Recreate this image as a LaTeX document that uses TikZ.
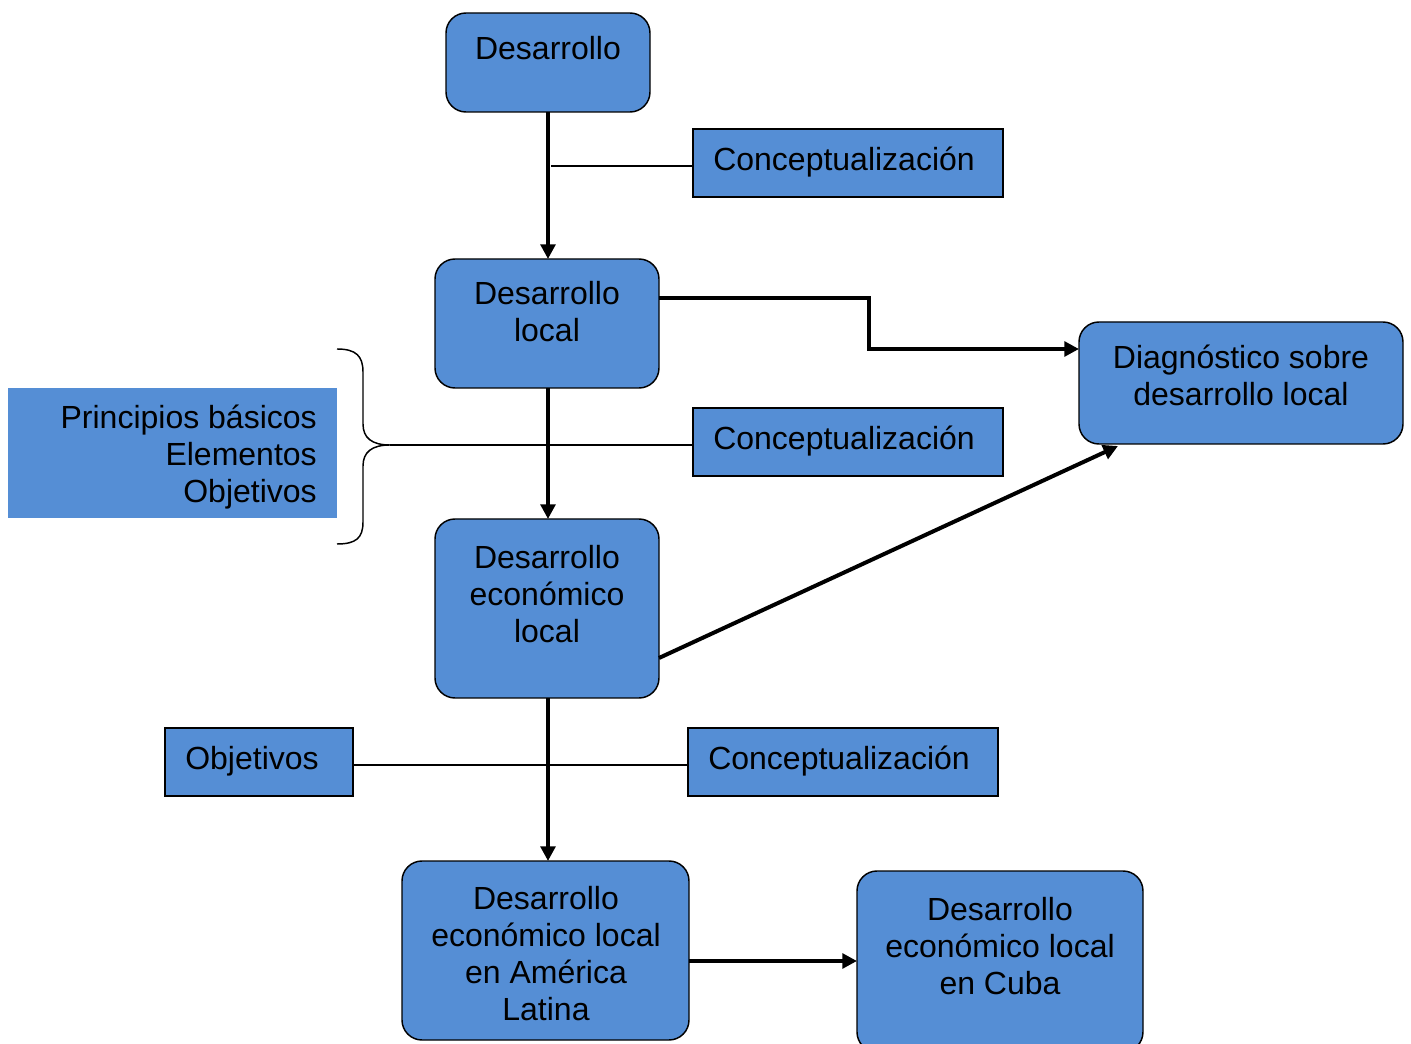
\documentclass[tikz,border=0pt]{standalone}
\usepackage{fontspec}
\setmainfont{Liberation Sans}
\usetikzlibrary{arrows.meta}
\definecolor{boxblue}{HTML}{558ED5}
\begin{document}
\begin{tikzpicture}[x=0.75pt,y=-0.75pt,
  rbox/.style={draw=black,line width=1.1pt,fill=boxblue,rounded corners=15pt},
  sbox/.style={draw=black,line width=1.1pt,fill=boxblue},
  txt/.style={font=\fontsize{24}{27.75}\selectfont,align=center,inner sep=0pt},
  thick arrow/.style={line width=3pt,-{Triangle[length=11pt,width=11pt]}},
  thin/.style={line width=1pt}]
\useasboundingbox (0,0) rectangle (1411,1044);
% boxes
\draw[rbox] (446,13) rectangle (650,112);
\node[txt] (d) at (548,48) {Desarrollo};
\coordinate (dbot) at (548,112);
\draw[sbox] (693,129) rectangle (1003,197);
\node[txt,anchor=west] (c1) at (713,162) {Conceptualización};
\coordinate (c1l) at (693,166);
\draw[rbox] (435,259) rectangle (659,388);
\node[txt] (dl) at (547,312) {Desarrollo\\local};
\coordinate (dltop) at (548,259);
\coordinate (dlbot) at (548,388);
\coordinate (dlr) at (659,298);
\draw[rbox] (1079,322) rectangle (1403,444);
\node[txt] (diag) at (1241,375) {Diagnóstico sobre\\desarrollo local};
\coordinate (diagl) at (1079,349);
\coordinate (diagb) at (1118,446);
\fill[boxblue] (8,388) rectangle (337,518);
\node[txt,align=right,anchor=east] (pr) at (317,457) {Principios básicos\\Elementos\\Objetivos};
\draw[sbox] (693,408) rectangle (1003,476);
\node[txt,anchor=west] (c2) at (713,441) {Conceptualización};
\coordinate (c2l) at (693,445);
\draw[rbox] (435,519) rectangle (659,698);
\node[txt] (del) at (547,594) {Desarrollo\\económico\\local};
\coordinate (deltop) at (548,519);
\coordinate (delbot) at (548,698);
\coordinate (delr) at (659,658);
\draw[sbox] (165,728) rectangle (353,796);
\node[txt] (ob) at (252,761) {Objetivos};
\coordinate (obr) at (353,765);
\draw[sbox] (688,728) rectangle (998,796);
\node[txt,anchor=west] (c3) at (708,761) {Conceptualización};
\coordinate (c3l) at (688,765);
\draw[rbox] (402,861) rectangle (689,1040);
\node[txt] (dal) at (546,954) {Desarrollo\\económico local\\en América\\Latina};
\coordinate (daltop) at (548,861);
\coordinate (dalr) at (689,961);
\draw[rbox] (857,871) rectangle (1143,1052);
\node[txt] (cu) at (1000,946) {Desarrollo\\económico local\\en Cuba};
\coordinate (cul) at (857,961);
% connectors
\draw[thick arrow] (dbot) -- (dltop);
\draw[thin] (551,166) coordinate (c1s) -- (c1l);
\draw[thick arrow] (dlr) -- (869,298) -- (869,349) -- (diagl);
\draw[thick arrow] (dlbot) -- (deltop);
\draw[line width=1.1pt] (337,349) coordinate (bt) .. controls (356,349) and (363,356) .. (363,372)
  -- (363,424) .. controls (363,438) and (372,445) .. (390,445) coordinate (btip)
  .. controls (372,445) and (363,452) .. (363,466)
  -- (363,522) .. controls (363,538) and (356,544) .. (337,544);
\draw[thin] (btip) -- (c2l);
\draw[thick arrow] (delr) -- (diagb);
\draw[thick arrow] (delbot) -- (daltop);
\draw[thin] (obr) -- (c3l);
\draw[thick arrow] (dalr) -- (cul);
\end{tikzpicture}
\end{document}
